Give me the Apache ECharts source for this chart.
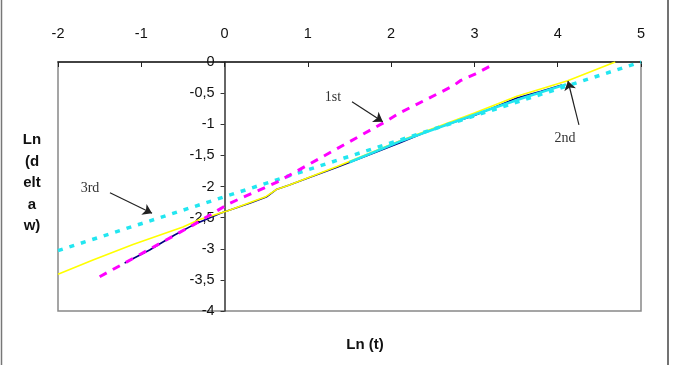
<!DOCTYPE html>
<html>
<head>
<meta charset="utf-8">
<script src="https://cdn.jsdelivr.net/npm/echarts@6/dist/echarts.min.js"></script>
<style>
  html, body { margin: 0; padding: 0; background: #fff; }
  #chart { width: 676px; height: 365px; }
</style>
</head>
<body>
<div id="chart"></div>
<script>
// x = Ln(t), y = Ln(delta w)
const stage1 = [[-1.5, -3.45], [-1.2, -3.23], [-0.38, -2.62], [0.06, -2.27], [0.63, -1.93],
  [1.93, -0.96], [2.1, -0.82], [2.75, -0.38], [2.83, -0.30], [3.0, -0.2], [3.21, -0.05]];
const measured = [[-1.2, -3.23], [-0.9, -3.02], [-0.6, -2.78], [-0.38, -2.62], [-0.05, -2.43],
  [0.3, -2.27], [0.5, -2.17], [0.62, -2.05], [0.77, -1.98], [1.05, -1.84], [1.35, -1.69],
  [1.7, -1.51], [2.1, -1.30], [2.5, -1.08], [3.0, -0.86], [3.51, -0.58], [3.8, -0.47], [4.05, -0.37]];
const stage2 = [[-2, -3.41], [-1.58, -3.18], [-1.1, -2.93], [-0.5, -2.65], [-0.3, -2.53],
  [0.04, -2.39], [0.5, -2.16], [0.62, -2.05], [0.77, -1.98], [1.35, -1.68], [2.1, -1.27],
  [3.0, -0.82], [3.51, -0.55], [4.12, -0.30], [4.69, 0]];
const measuredCyan = [[1.5, -1.61], [2.1, -1.28], [2.6, -1.04], [3.1, -0.80], [3.6, -0.57], [4.1, -0.36]];
const stage3 = [[-2, -3.03], [5, 0]];

// annotation arrows [from, to] in data coords
const arrows = [
  [[1.53, -0.64], [1.90, -0.96]],
  [[4.255, -1.01], [4.123, -0.305]],
  [[-1.376, -2.10], [-0.871, -2.43]]
];

const chart = echarts.init(document.getElementById('chart'));
const axisFont = { fontFamily: 'Liberation Sans', fontSize: 14.5, color: '#111' };

// y axis sits on x = 0 : shift it right by 2 of the 7 x units
const plotW = 676 - 58 - 35;
const yShift = plotW * 2 / 7;

chart.setOption({
  animation: false,
  backgroundColor: '#fff',
  grid: {
    left: 58, right: 35, top: 62, bottom: 54,
    show: true, borderColor: '#888', borderWidth: 1.5
  },
  xAxis: {
    type: 'value', position: 'top', min: -2, max: 5, interval: 1,
    axisLine: { onZero: false, lineStyle: { color: '#222', width: 1.5 } },
    axisTick: { inside: true, length: 5, lineStyle: { color: '#222' } },
    axisLabel: Object.assign({ margin: 21 }, axisFont),
    splitLine: { show: false }
  },
  yAxis: {
    type: 'value', min: -4, max: 0, interval: 0.5, offset: -yShift,
    axisLine: { show: true, onZero: false, lineStyle: { color: '#333', width: 1.5 } },
    axisTick: { show: true, length: 4, lineStyle: { color: '#333' } },
    axisLabel: Object.assign({ margin: 10, formatter: v => String(v).replace('.', ',') }, axisFont),
    splitLine: { show: false }
  },
  series: [
    {
      type: 'line', data: measured, symbol: 'none',
      lineStyle: { color: '#000080', width: 1.6 }
    },
    {
      type: 'line', data: stage2, symbol: 'none',
      lineStyle: { color: '#ffff00', width: 1.6 }
    },
    {
      type: 'line', data: measuredCyan, symbol: 'none',
      lineStyle: { color: '#22e6f0', width: 2.5 }
    },
    {
      type: 'line', data: stage3, symbol: 'none',
      lineStyle: { color: '#22e6f0', width: 3.5, type: [5, 7] }
    },
    {
      type: 'line', data: stage1, symbol: 'none',
      lineStyle: { color: '#ff00ff', width: 3, type: [8, 7] },
      markLine: {
        silent: true,
        symbol: ['none', 'arrow'],
        symbolSize: 9,
        label: { show: false },
        lineStyle: { color: '#222', width: 1.2, type: 'solid' },
        data: arrows.map(a => [{ coord: a[0] }, { coord: a[1] }])
      }
    }
  ],
  graphic: [
    { type: 'line', shape: { x1: 1.5, y1: 0, x2: 1.5, y2: 365 }, style: { stroke: '#777', lineWidth: 1.5 } },
    { type: 'line', shape: { x1: 668, y1: 0, x2: 668, y2: 365 }, style: { stroke: '#444', lineWidth: 1.5 } },
    {
      type: 'text', style: {
        text: 'Ln (t)', x: 365, y: 345, align: 'center', verticalAlign: 'middle',
        font: 'bold 15px "Liberation Sans"', fill: '#111'
      }
    },
    {
      type: 'text', style: {
        text: 'Ln\n(d\nelt\na\nw)', x: 32, y: 183, align: 'center', verticalAlign: 'middle',
        font: 'bold 15px "Liberation Sans"', fill: '#111', lineHeight: 21.5
      }
    },
    { type: 'text', style: { text: '1st', x: 333, y: 97, align: 'center', verticalAlign: 'middle', font: '14px "Liberation Serif"', fill: '#333' } },
    { type: 'text', style: { text: '2nd', x: 565, y: 138, align: 'center', verticalAlign: 'middle', font: '14px "Liberation Serif"', fill: '#333' } },
    { type: 'text', style: { text: '3rd', x: 90, y: 188, align: 'center', verticalAlign: 'middle', font: '14px "Liberation Serif"', fill: '#333' } }
  ]
});
</script>
</body>
</html>
